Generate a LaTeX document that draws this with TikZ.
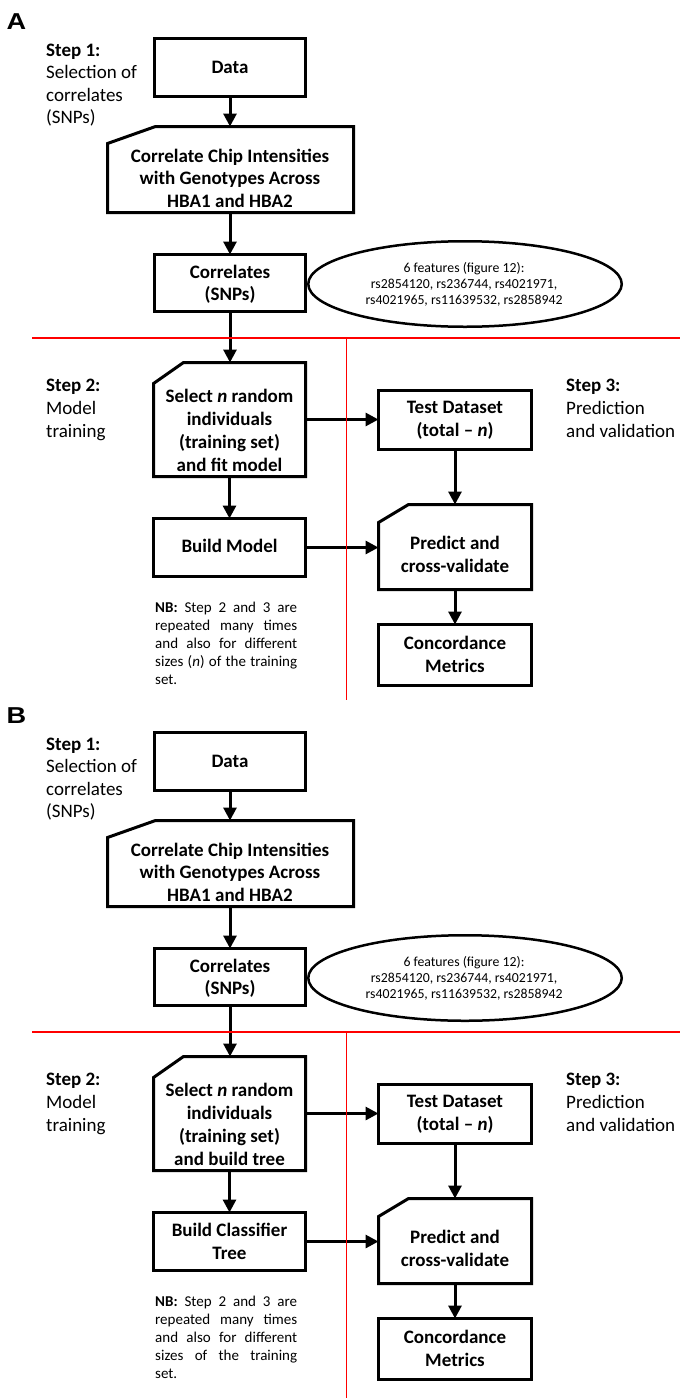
\documentclass[tikz,border=0pt]{standalone}
\usepackage{fontspec}
\setmainfont{Carlito}
\newfontfamily\letterfont{Liberation Sans}
\usetikzlibrary{arrows.meta,calc,shapes.geometric}
\tikzset{
  frame/.style={draw=black, line width=3pt, line join=miter},
  boxnode/.style={rectangle, inner sep=0pt, outer sep=0pt},
  boxframe/.style={boxnode, frame},
  btext/.style={anchor=base, inner sep=0pt, font=\fontsize{19}{23}\selectfont\bfseries},
  stext/.style={anchor=base west, inner sep=0pt, font=\fontsize{19}{23}\selectfont},
  etext/.style={anchor=base, inner sep=0pt, font=\fontsize{13.8}{16}\selectfont},
  nbtext/.style={anchor=base west, inner sep=0pt, font=\fontsize{15}{18}\selectfont},
  flow/.style={line width=3pt, -{Triangle[length=13pt,width=13pt]}},
  divider/.style={draw=red, line width=1.2pt},
  letter/.style={anchor=base west, inner sep=0pt, font=\fontsize{23}{23}\selectfont\letterfont\bfseries},
  oval/.style={ellipse, draw=black, line width=2.5pt, inner sep=0pt, outer sep=0pt},
}
% #1 prefix, #2 y offset, #3 letter, #4 last line of select box,
% #5 build-box text nodes, #6 fourth NB line, #7 end of vertical divider
\newcommand\flowpanel[7]{%
\begin{scope}[yshift=-#2pt]
  \node[letter, xscale=1.18] (#1letter) at (6.5,29.3) {#3};
  % Step 1 label
  \node[stext] (#1s1a) at (46,56) {\bfseries Step 1:};
  \node[stext] (#1s1b) at (46,78.5) {Selection of};
  \node[stext] (#1s1c) at (46,101) {correlates};
  \node[stext] (#1s1d) at (46,123.5) {(SNPs)};
  % Data
  \node[boxframe, minimum width=151.5pt, minimum height=58pt] (#1data) at (230,67.5) {};
  \node[btext] (#1datat) at (230,73) {Data};
  % Correlate chip intensities
  \node[boxnode, minimum width=246pt, minimum height=86pt] (#1corr) at (230.5,169.5) {};
  \draw[frame] ($(#1corr.north west)+(48,0)$) -- (#1corr.north east) -- (#1corr.south east)
     -- (#1corr.south west) -- ($(#1corr.north west)+(0,17)$) -- cycle;
  \node[btext] (#1corrt1) at (230,162) {Correlate Chip Intensities};
  \node[btext] (#1corrt2) at (230,184.5) {with Genotypes Across};
  \node[btext] (#1corrt3) at (230,207) {HBA1 and HBA2};
  % Correlates (SNPs)
  \node[boxframe, minimum width=151.5pt, minimum height=57pt] (#1snps) at (230,283) {};
  \node[btext] (#1snpst1) at (230,278) {Correlates};
  \node[btext] (#1snpst2) at (230,300.5) {(SNPs)};
  % features ellipse
  \node[oval, minimum width=313.5pt, minimum height=85.5pt] (#1feat) at (465,284) {};
  \node[etext] (#1featt1) at (464,272.7) {6 features (figure 12):};
  \node[etext] (#1featt2) at (464,288.4) {rs2854120, rs236744, rs4021971,};
  \node[etext] (#1featt3) at (464,304) {rs4021965, rs11639532, rs2858942};
  % Step 2 label
  \node[stext] (#1s2a) at (46,391.5) {\bfseries Step 2:};
  \node[stext] (#1s2b) at (46,414.5) {Model};
  \node[stext] (#1s2c) at (46,437.5) {training};
  % Select box
  \node[boxnode, minimum width=152pt, minimum height=114pt] (#1sel) at (229.5,419.5) {};
  \draw[frame] ($(#1sel.north west)+(30,0)$) -- (#1sel.north east) -- (#1sel.south east)
     -- (#1sel.south west) -- ($(#1sel.north west)+(0,21)$) -- cycle;
  \node[btext] (#1selt1) at (229.5,402.7) {Select \textit{n} random};
  \node[btext] (#1selt2) at (229.5,425.7) {individuals};
  \node[btext] (#1selt3) at (229.5,448.7) {(training set)};
  \node[btext] (#1selt4) at (229.5,471.7) {#4};
  % Build box
  \node[boxframe, minimum width=152pt, minimum height=58pt] (#1build) at (229.5,547.5) {};
  #5
  % NB note
  \node[nbtext] (#1nb1) at (155,612.7) {\hbox to 142pt{\textbf{NB:} Step 2 and 3 are}};
  \node[nbtext] (#1nb2) at (155,630.5) {\hbox to 142pt{repeated many times}};
  \node[nbtext] (#1nb3) at (155,648.3) {\hbox to 142pt{and also for different}};
  \node[nbtext] (#1nb4) at (155,666.1) {\hbox to 142pt{#6}};
  \node[nbtext] (#1nb5) at (155,684) {set.};
  % Step 3 label
  \node[stext] (#1s3a) at (566,391.5) {\bfseries Step 3:};
  \node[stext] (#1s3b) at (566,414.5) {Prediction};
  \node[stext] (#1s3c) at (566,437.5) {and validation};
  % Test dataset
  \node[boxframe, minimum width=153pt, minimum height=59pt] (#1test) at (455,420) {};
  \node[btext] (#1testt1) at (455,413.3) {Test Dataset};
  \node[btext] (#1testt2) at (455,436.7) {(total -- \textit{n})};
  % Predict
  \node[boxnode, minimum width=153pt, minimum height=85pt] (#1pred) at (455,547) {};
  \draw[frame] ($(#1pred.north west)+(30,0)$) -- (#1pred.north east) -- (#1pred.south east)
     -- (#1pred.south west) -- ($(#1pred.north west)+(0,18)$) -- cycle;
  \node[btext] (#1predt1) at (455,549) {Predict and};
  \node[btext] (#1predt2) at (455,572.7) {cross-validate};
  % Concordance
  \node[boxframe, minimum width=153pt, minimum height=61pt] (#1conc) at (455,655) {};
  \node[btext] (#1conct1) at (455,649) {Concordance};
  \node[btext] (#1conct2) at (455,672.7) {Metrics};
  % connectors
  \draw[flow] (#1data.south) -- (#1data.south |- #1corr.north);
  \draw[flow] (#1data.south |- #1corr.south) -- (#1data.south |- #1snps.north);
  \draw[flow] (#1snps.south) -- (#1snps.south |- #1sel.north);
  \draw[flow] (#1sel.south) -- (#1sel.south |- #1build.north);
  \draw[flow] (#1sel.east) -- (#1sel.east -| #1test.west);
  \draw[flow] (#1build.east) -- (#1build.east -| #1pred.west);
  \draw[flow] (#1test.south) -- (#1test.south |- #1pred.north);
  \draw[flow] (#1pred.south) -- (#1pred.south |- #1conc.north);
  % red dividers
  \coordinate (#1hl) at (32,338);
  \coordinate (#1hr) at (680,338);
  \coordinate (#1vt) at (346.5,338);
  \coordinate (#1vb) at (346.5,#7);
  \draw[divider] (#1hl) -- (#1hr);
  \draw[divider] (#1vt) -- (#1vb);
\end{scope}}
\begin{document}
\begin{tikzpicture}[x=1pt,y=-1pt]
  \fill[white] (0,0) rectangle (688,1398);
  \useasboundingbox (0,0) rectangle (688,1398);
  \flowpanel{a}{0}{A}{and fit model}
    {\node[btext] (abuildt1) at (229.5,552.7) {Build Model};}
    {sizes (\textit{n}) of the training}{700}
  \flowpanel{b}{694}{B}{and build tree}
    {\node[btext] (bbuildt1) at (229.5,542) {Build Classifier};
     \node[btext] (bbuildt2) at (229.5,565.3) {Tree};}
    {sizes of the training}{704}
\end{tikzpicture}
\end{document}
